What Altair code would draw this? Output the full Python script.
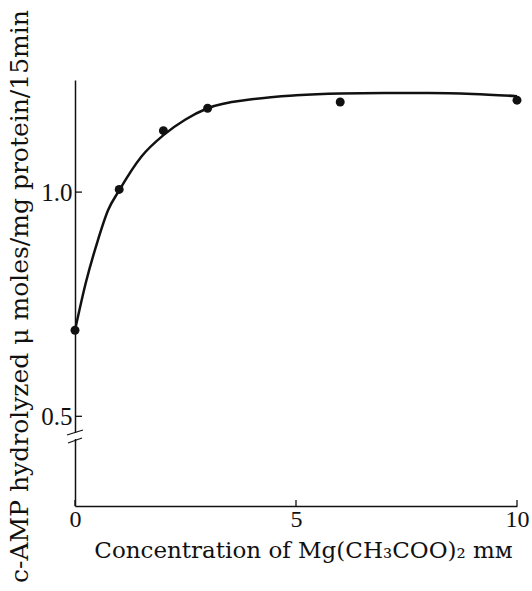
import altair as alt
import pandas as pd

# measured points
conc = [0, 1, 2, 3, 6, 10]
activity = [0.692, 1.006, 1.137, 1.187, 1.201, 1.205]

# drawn smooth curve
curve_x = [0, 0.25, 0.5, 0.75, 1, 1.5, 2, 2.5, 3, 4, 5, 6, 7, 8, 9, 10]
curve_y = [0.692, 0.80, 0.887, 0.96, 1.004, 1.079, 1.127, 1.162, 1.187,
           1.207, 1.216, 1.220, 1.221, 1.221, 1.219, 1.214]

x_ticks = [0, 5, 10]
y_ticks = [0.5, 1.0]

W, H = 442, 426
FONT = "Liberation Serif"
TFONT = "DejaVu Serif"
INK = "#111111"

xscale = alt.Scale(domain=[0, 10], nice=False, zero=False)
yscale = alt.Scale(domain=[0.3, 1.25], nice=False, zero=False)

xaxis = alt.Axis(values=x_ticks, format="d", tickSize=0, grid=False,
                 domainColor=INK, domainWidth=1.5, labelFlush=False,
                 labelFont=FONT, labelFontSize=24, labelColor=INK, labelPadding=1,
                 title="Concentration of Mg(CH₃COO)₂ mᴍ", titleFont=TFONT,
                 titleFontSize=23, titleFontWeight="normal", titleColor=INK,
                 titleX=228, titleY=44, titleAlign="center", titleBaseline="middle")
yaxis = alt.Axis(values=y_ticks, format=".1f", tickSize=0, grid=False,
                 domainColor=INK, domainWidth=1.5, labelFlush=False,
                 labelFont=FONT, labelFontSize=25, labelColor=INK, labelPadding=3,
                 labelBaseline="middle",
                 title="c-AMP hydrolyzed μ moles/mg protein/15min", titleFont=TFONT,
                 titleFontSize=25, titleFontWeight="normal", titleColor=INK,
                 titleX=-56, titleY=216, titleAngle=270, titleAlign="center",
                 titleBaseline="middle")

pts = pd.DataFrame({"x": conc, "y": activity})
crv = pd.DataFrame({"x": curve_x, "y": curve_y})
xt = pd.DataFrame({"x": x_ticks})
yt = pd.DataFrame({"y": y_ticks})
one = pd.DataFrame({"a": [0]})

line = alt.Chart(crv).mark_line(color=INK, strokeWidth=2.5, interpolate="monotone").encode(
    x=alt.X("x:Q", scale=xscale, axis=xaxis),
    y=alt.Y("y:Q", scale=yscale, axis=yaxis),
)
dots = alt.Chart(pts).mark_circle(color=INK, size=80, opacity=1).encode(
    x=alt.X("x:Q", scale=xscale, axis=xaxis),
    y=alt.Y("y:Q", scale=yscale, axis=yaxis),
)
ytk = alt.Chart(yt).mark_rule(color=INK, strokeWidth=1.3).encode(
    y=alt.Y("y:Q", scale=yscale, axis=yaxis),
    x=alt.value(0), x2=alt.value(7),
)
xtk = alt.Chart(xt).mark_rule(color=INK, strokeWidth=1.3).encode(
    x=alt.X("x:Q", scale=xscale, axis=xaxis),
    y=alt.value(H), y2=alt.value(H - 6),
)
gap = alt.Chart(one).mark_rect(color="white").encode(
    x=alt.value(-3), x2=alt.value(3), y=alt.value(353), y2=alt.value(359),
)
slash1 = alt.Chart(one).mark_rule(color=INK, strokeWidth=1.3).encode(
    x=alt.value(-8), x2=alt.value(8), y=alt.value(355), y2=alt.value(350),
)
slash2 = alt.Chart(one).mark_rule(color=INK, strokeWidth=1.3).encode(
    x=alt.value(-7), x2=alt.value(7), y=alt.value(363), y2=alt.value(358),
)

chart = alt.layer(gap, slash1, slash2, ytk, xtk, line, dots).properties(
    width=W, height=H,
    autosize=alt.AutoSizeParams(type="none"),
    padding={"left": 75, "top": 80, "right": 15, "bottom": 85},
    background="white",
).configure_view(stroke=None)

chart.save("out.html", embed_options={"renderer": "svg", "actions": False})
